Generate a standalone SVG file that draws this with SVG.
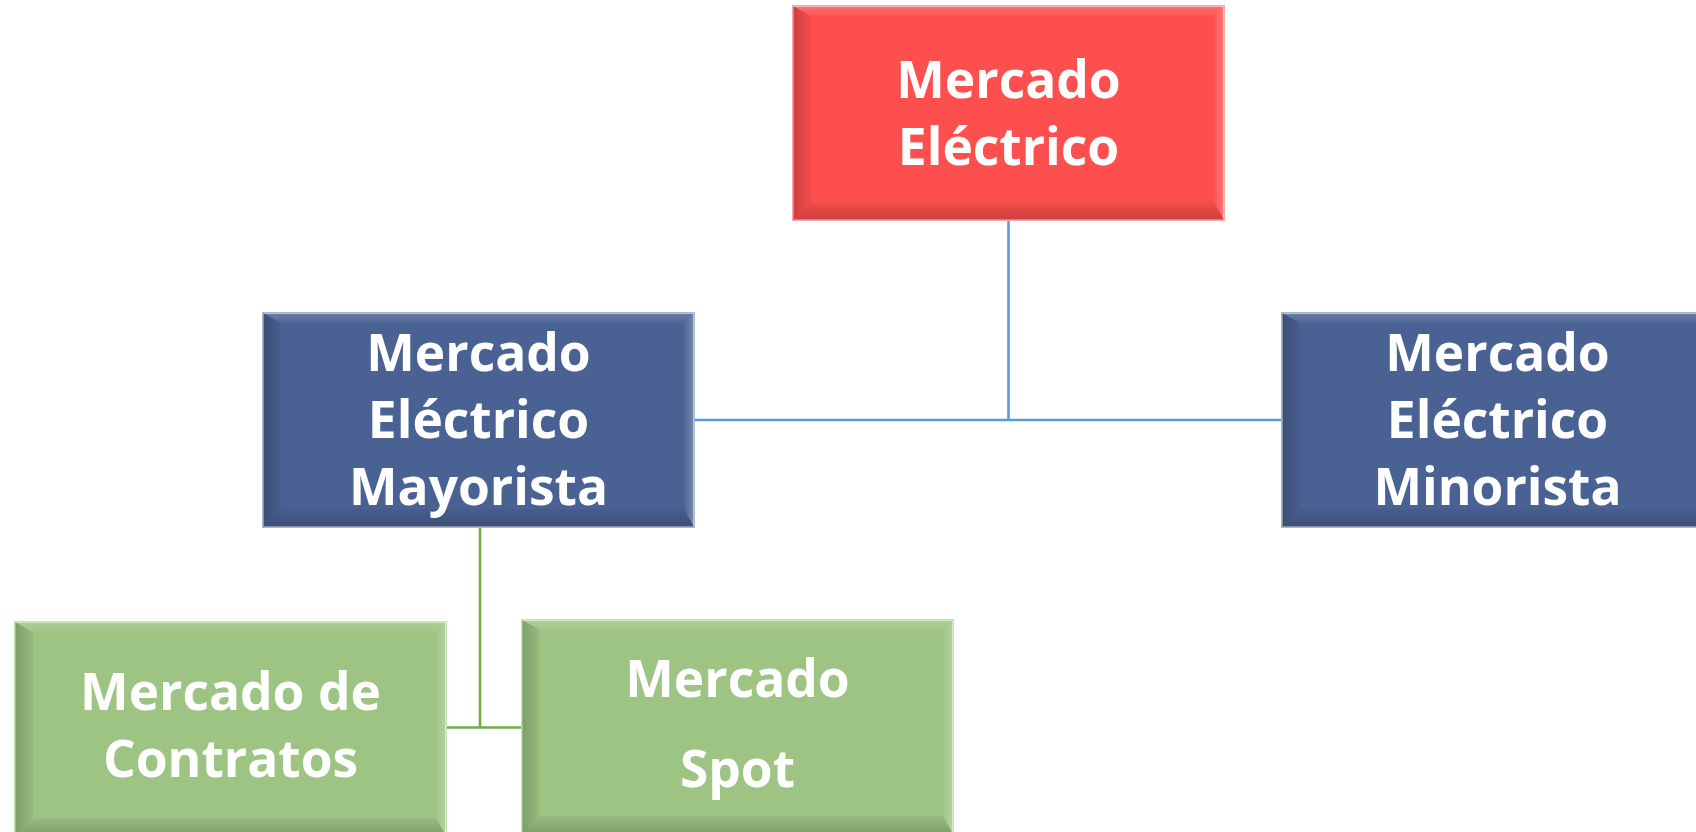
<svg xmlns="http://www.w3.org/2000/svg" xmlns:xlink="http://www.w3.org/1999/xlink" width="1696" height="832" viewBox="0 0 1696 832">
<style>
.lbl{font-family:"Open Sans","Liberation Sans",sans-serif;font-weight:700;font-size:51.5px;fill:#fff;text-anchor:middle}
.red{fill:#FE4F4F;stroke:#F6A8A8;stroke-width:2}
.blue{fill:#4A6293;stroke:#A9B6CE;stroke-width:2}
.green{fill:#9DC483;stroke:#C4E6AE;stroke-width:2}
.cb{stroke:#5B9BD5;stroke-width:2.6;fill:none}
.cg{stroke:#70AD47;stroke-width:2.6;fill:none}
</style>
<defs>
<linearGradient id="gl" x1="0" y1="0" x2="1" y2="0"><stop offset="0" stop-color="#000" stop-opacity="0.2"/><stop offset="1" stop-color="#000" stop-opacity="0.04"/></linearGradient>
<linearGradient id="gb" x1="0" y1="1" x2="0" y2="0"><stop offset="0" stop-color="#000" stop-opacity="0.2"/><stop offset="1" stop-color="#000" stop-opacity="0.04"/></linearGradient>
<linearGradient id="gt" x1="0" y1="0" x2="0" y2="1"><stop offset="0" stop-color="#fff" stop-opacity="0.18"/><stop offset="1" stop-color="#fff" stop-opacity="0.03"/></linearGradient>
<linearGradient id="gr" x1="1" y1="0" x2="0" y2="0"><stop offset="0" stop-color="#fff" stop-opacity="0.25"/><stop offset="1" stop-color="#fff" stop-opacity="0.03"/></linearGradient>
<g id="bevel">
<polygon points="0,0 431,0 421,10 18,10" fill="url(#gt)"/>
<polygon points="431,0 431,214 421,196 421,10" fill="url(#gr)"/>
<polygon points="0,0 18,10 18,196 0,214" fill="url(#gl)"/>
<polygon points="0,214 18,196 421,196 431,214" fill="url(#gb)"/>
</g>
</defs>
<g id="connectors">
<polyline class="cb" points="1008.5,220 1008.5,420"/>
<polyline class="cb" points="694,420 1282,420"/>
<polyline class="cg" points="480,527 480,727.5"/>
<polyline class="cg" points="446,727.5 522,727.5"/>
</g>
<g id="node-mercado-electrico">
<rect class="red" x="793" y="6" width="431" height="214"/>
<use xlink:href="#bevel" x="793" y="6"/>
<text class="lbl" x="1008.5" y="98">Mercado</text>
<text class="lbl" x="1008.5" y="165">Eléctrico</text>
</g>
<g id="node-mayorista">
<rect class="blue" x="263" y="313" width="431" height="214"/>
<use xlink:href="#bevel" x="263" y="313"/>
<text class="lbl" x="478.5" y="371">Mercado</text>
<text class="lbl" x="478.5" y="438">Eléctrico</text>
<text class="lbl" x="478.5" y="505">Mayorista</text>
</g>
<g id="node-minorista">
<rect class="blue" x="1282" y="313" width="431" height="214"/>
<use xlink:href="#bevel" x="1282" y="313"/>
<text class="lbl" x="1497.5" y="371">Mercado</text>
<text class="lbl" x="1497.5" y="438">Eléctrico</text>
<text class="lbl" x="1497.5" y="505">Minorista</text>
</g>
<g id="node-contratos">
<rect class="green" x="15" y="622" width="431" height="214"/>
<use xlink:href="#bevel" x="15" y="622"/>
<text class="lbl" x="230.5" y="710">Mercado de</text>
<text class="lbl" x="230.5" y="777">Contratos</text>
</g>
<g id="node-spot">
<rect class="green" x="522" y="620" width="431" height="214"/>
<use xlink:href="#bevel" x="522" y="620"/>
<text class="lbl" x="737.5" y="697">Mercado</text>
<text class="lbl" x="737.5" y="787">Spot</text>
</g>
</svg>
